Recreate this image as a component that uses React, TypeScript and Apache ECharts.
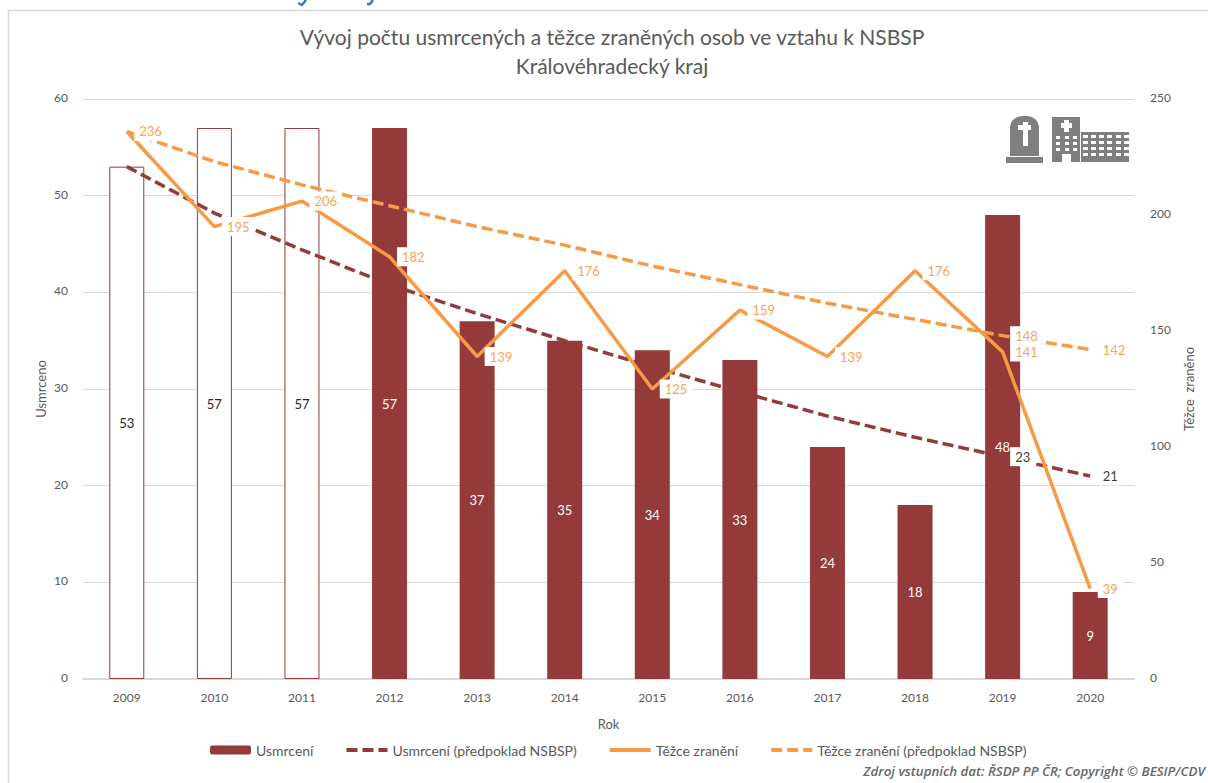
import React, { useEffect, useRef } from "react";
import * as echarts from "echarts";

const years = ["2009","2010","2011","2012","2013","2014","2015","2016","2017","2018","2019","2020"];
const deaths = [53,57,57,57,37,35,34,33,24,18,48,9];
const deathsTrend = [53,48.2,44.4,40.8,37.8,35,32.3,29.7,27.2,25,23,21];
const injured = [236,195,206,182,139,176,125,159,139,176,141,39];
const injuredTrend = [236,223,213,204,195,187,178,170,162,155,148,142];
const outlinedYears = ["2009","2010","2011"];
const labelledTrendYears = ["2019","2020"];

const WINE = "#943A3A";
const ORANGE = "#F79A45";
const ORANGE_TEXT = "#F9A35C";
const GRAY = "#595959";
const ICON = "#7F7F7F";
const HIDDEN = "rgba(0,0,0,0)";
const FONT = "Lato, 'Noto Sans', sans-serif";

const lineLabel = (color: string) => ({
  show: true, position: "right" as const, distance: 7, color, fontFamily: FONT, fontSize: 13,
  backgroundColor: "#fff", padding: [3, 5],
  formatter: (p: any) => String(Math.round(p.value)),
});

const r = (x: number, y: number, width: number, height: number, fill: string, rr?: number[]) => ({
  type: "rect", silent: true, shape: { x, y, width, height, r: rr }, style: { fill },
});

function icons() {
  const c: any[] = [
    r(1010, 116, 29, 40, ICON, [12, 12, 0, 0]),
    r(1006, 157, 37, 6, ICON),
    r(1023, 122, 5, 24, "#fff"),
    r(1018, 125, 13, 5, "#fff"),
    r(1052, 117, 28, 45, ICON),
    r(1081, 132, 48, 30, ICON),
    r(1064, 120, 5, 12, "#fff"),
    r(1061, 123, 11, 5, "#fff"),
    r(1062, 154, 9, 8, "#fff"),
  ];
  [1056, 1065, 1073].forEach((x) => [136, 142, 148].forEach((y) => c.push(r(x, y, 4, 3, "#fff"))));
  [1083, 1091, 1099, 1107, 1116, 1124].forEach((x) =>
    [135, 141, 147, 153].forEach((y) => c.push(r(x, y, 5, 3, "#fff"))));
  return c;
}

const trendSeriesCommon = {
  type: "line", symbol: "circle", symbolSize: 1, showAllSymbol: true, itemStyle: { color: HIDDEN },
};

export default function App() {
  const ref = useRef<HTMLDivElement>(null);
  useEffect(() => {
    document.body.style.margin = "0";
    const chart = echarts.init(ref.current!, undefined, { renderer: "svg" });
    chart.setOption({
      animation: false,
      backgroundColor: "#fff",
      textStyle: { fontFamily: FONT },
      title: {
        text: "Vývoj počtu usmrcených a těžce zraněných osob ve vztahu k NSBSP\nKrálovéhradecký kraj",
        left: 607, top: 17, textAlign: "center",
        textStyle: { color: GRAY, fontSize: 21, fontWeight: "normal", fontFamily: FONT, lineHeight: 29 },
      },
      grid: { left: 83, right: 74, top: 99, bottom: 104, containLabel: false, outerBoundsMode: "none" },
      legend: {
        left: 205, top: 738, itemWidth: 41, itemHeight: 9, itemGap: 31,
        textStyle: { color: GRAY, fontSize: 14, fontFamily: FONT },
        data: [
          { name: "Usmrcení" },
          { name: "Usmrcení (předpoklad NSBSP)", lineStyle: { width: 4 } },
          { name: "Těžce zranění", lineStyle: { width: 4 } },
          { name: "Těžce zranění (předpoklad NSBSP)", lineStyle: { width: 4 } },
        ],
      },
      xAxis: {
        type: "category", data: years, name: "Rok", nameLocation: "middle", nameGap: 38,
        nameTextStyle: { color: GRAY, fontSize: 13, fontFamily: FONT },
        axisLine: { lineStyle: { color: "#D9D9D9", width: 2 } }, axisTick: { show: false },
        axisLabel: { color: GRAY, fontSize: 12, margin: 12, fontFamily: FONT },
      },
      yAxis: [
        {
          type: "value", min: 0, max: 60, interval: 10, name: "Usmrceno", nameLocation: "middle", nameGap: 36, nameMoveOverlap: false,
          nameTextStyle: { color: GRAY, fontSize: 13, fontFamily: FONT },
          axisLabel: { color: GRAY, fontSize: 12, margin: 15, fontFamily: FONT, verticalAlign: "bottom", lineHeight: 3 },
          splitLine: { lineStyle: { color: "#D9D9D9", width: 1 } },
        },
        {
          type: "value", min: 0, max: 250, interval: 50, name: "Těžce  zraněno", nameLocation: "middle", nameGap: 48, nameRotate: 90, nameMoveOverlap: false,
          nameTextStyle: { color: GRAY, fontSize: 13, fontFamily: FONT },
          axisLabel: { color: GRAY, fontSize: 12, margin: 16, fontFamily: FONT, verticalAlign: "bottom", lineHeight: 3 },
          splitLine: { show: false },
        },
      ],
      series: [
        {
          name: "Usmrcení", type: "bar", barWidth: 35, yAxisIndex: 0, z: 2,
          itemStyle: { color: WINE },
          data: deaths.map((v, i) =>
            outlinedYears.includes(years[i])
              ? { value: v, itemStyle: { color: "#fff", borderColor: WINE, borderWidth: 1 },
                  label: { color: "#262626" } }
              : v),
          label: { show: true, position: "inside", color: "#fff", fontSize: 13, fontFamily: FONT },
        },
        {
          ...trendSeriesCommon,
          name: "Usmrcení (předpoklad NSBSP)", yAxisIndex: 0, z: 3,
          lineStyle: { color: WINE, width: 3.5, type: [11, 5] },
          data: deathsTrend.map((v, i) =>
            labelledTrendYears.includes(years[i])
              ? { value: v, label: lineLabel("#404040") } : v),
        },
        {
          ...trendSeriesCommon,
          name: "Těžce zranění (předpoklad NSBSP)", yAxisIndex: 1, z: 3,
          lineStyle: { color: ORANGE, width: 3.5, type: [11, 5] },
          data: injuredTrend.map((v, i) =>
            labelledTrendYears.includes(years[i])
              ? { value: v, label: lineLabel(ORANGE_TEXT) } : v),
        },
        {
          ...trendSeriesCommon,
          name: "Těžce zranění", yAxisIndex: 1, z: 4,
          lineStyle: { color: ORANGE, width: 3.5 },
          label: lineLabel(ORANGE_TEXT),
          data: injured,
        },
      ],
      graphic: [
        { type: "rect", silent: true, z: -1, shape: { x: 8.5, y: 10.5, width: 1300, height: 900 },
          style: { fill: "none", stroke: "#D9D9D9", lineWidth: 1.5 } },
        { type: "polyline", silent: true, shape: { points: [[298, 3], [302, 5], [306, 0]] },
          style: { fill: "none", stroke: "#4472C4", lineWidth: 2.5 } },
        { type: "polyline", silent: true, shape: { points: [[367, 4], [370, 4], [373, 0]] },
          style: { fill: "none", stroke: "#4472C4", lineWidth: 2.5 } },
        { type: "group", silent: true, children: icons() },
        { type: "text", silent: true, x: 1205, y: 771,
          style: { text: "Zdroj vstupních dat: ŘSDP PP ČR; Copyright © BESIP/CDV", align: "right", verticalAlign: "middle",
            fill: "#666666", font: "italic 600 13.3px 'Open Sans', sans-serif" } },
      ],
    });
    return () => chart.dispose();
  }, []);
  return <div ref={ref} style={{ width: 1208, height: 783, overflow: "hidden" }} />;
}
